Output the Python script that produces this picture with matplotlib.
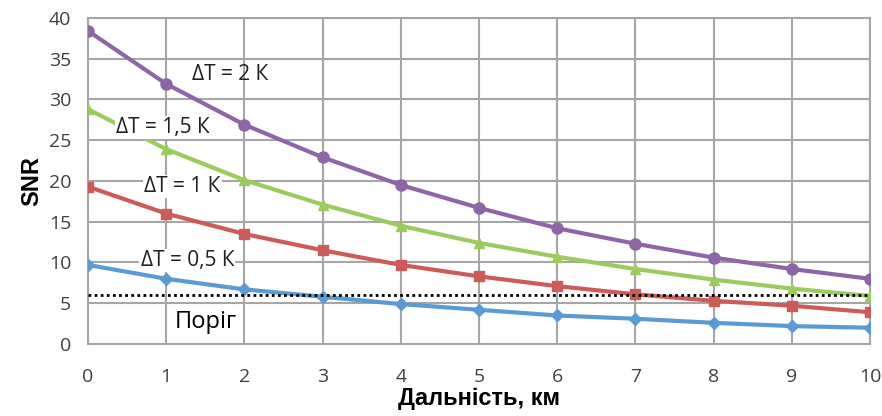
import numpy as np
import matplotlib.pyplot as plt

# ----------------- data -----------------
dist_km = [0, 1, 2, 3, 4, 5, 6, 7, 8, 9, 10]
snr_2k = [38.4, 31.9, 26.9, 22.9, 19.5, 16.7, 14.2, 12.3, 10.6, 9.2, 8.0]
snr_15k = [28.8, 23.9, 20.1, 17.1, 14.5, 12.4, 10.7, 9.2, 7.9, 6.8, 5.9]
snr_1k = [19.3, 16.0, 13.5, 11.5, 9.7, 8.3, 7.1, 6.1, 5.3, 4.7, 3.9]
snr_05k = [9.7, 8.0, 6.7, 5.8, 4.9, 4.2, 3.5, 3.1, 2.6, 2.2, 2.0]
threshold = 6

fig = plt.figure(figsize=(8.82, 4.16), dpi=100)
ax = fig.add_axes([0.0998, 0.173, 0.8866, 0.784])

ax.plot(dist_km, snr_05k, color='#5B9BD5', lw=3, marker='D', ms=6, zorder=3)
ax.plot(dist_km, snr_1k, color='#CD5B57', lw=3, marker='s', ms=7, zorder=3)
ax.plot(dist_km, snr_15k, color='#9BCB5C', lw=3, marker='^', ms=7, zorder=3)
ax.plot(dist_km, snr_2k, color='#9065A8', lw=3, marker='o', ms=8, zorder=3)
ax.plot([dist_km[0], dist_km[-1]], [threshold, threshold], color='black',
        lw=2, ls=(0, (1, 1.2)), zorder=4)

# ------------------ labels on the curves ------------------
lbl = dict(fontsize=15, family='Open Sans', color='#202020', ha='center', va='center', zorder=5)
box = dict(boxstyle='square,pad=0.05', fc='white', ec='none')
ax.text(1.82, 33.0, 'ΔT = 2 К', **lbl)
ax.text(0.96, 26.6, 'ΔT = 1,5 К', bbox=box, **lbl)
ax.text(1.21, 19.3, 'ΔT = 1 К', bbox=box, **lbl)
ax.text(1.27, 10.2, 'ΔT = 0,5 К', bbox=box, **lbl)
ax.text(1.5, 2.7, 'Поріг', fontsize=17, family='Open Sans', color='black',
        ha='center', va='center')

ax.set_xlim(0, 10)
ax.set_ylim(0, 40)
ax.set_xticks(range(0, 11))
ax.set_yticks(range(0, 41, 5))
ax.grid(True, color='#A6A6A6', lw=1.5)
ax.set_axisbelow(True)
for s in ax.spines.values():
    s.set_color('#A6A6A6')
    s.set_linewidth(1.5)
ax.tick_params(length=0, labelsize=14, labelcolor='#404040')
ax.tick_params(axis='x', pad=17)
ax.tick_params(axis='y', pad=12)
for t in ax.get_xticklabels() + ax.get_yticklabels():
    t.set_family('Open Sans')

ax.set_xlabel('Дальність, км', fontsize=17, fontweight='bold',
              family='Liberation Sans', labelpad=1)
ax.set_ylabel('SNR', fontsize=17, fontweight='bold', family='Liberation Sans',
              labelpad=4)

fig.savefig('out.png', dpi=100)
